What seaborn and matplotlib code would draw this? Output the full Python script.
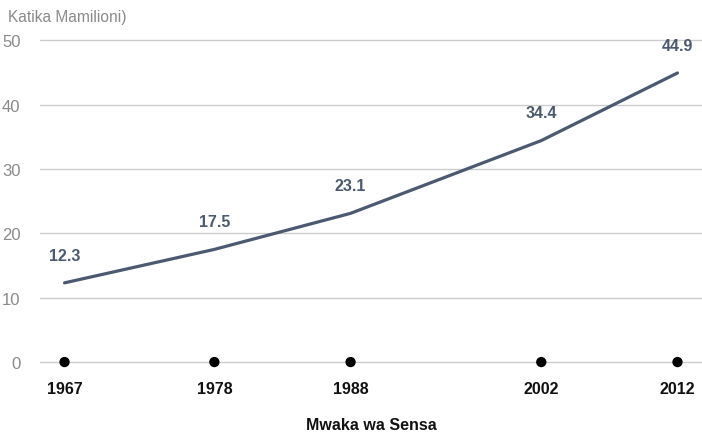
import matplotlib
matplotlib.use("Agg")
import matplotlib.pyplot as plt
import pandas as pd
import seaborn as sns

# census years and population (millions)
years = [1967, 1978, 1988, 2002, 2012]
population = [12.3, 17.5, 23.1, 34.4, 44.9]
y_ticks = [0, 10, 20, 30, 40, 50]

sns.set_theme(style="white")
plt.rcParams["font.family"] = ["Liberation Sans", "DejaVu Sans"]

line_col = "#4b5a70"
df = pd.DataFrame({"year": years, "pop": population})

fig = plt.figure(figsize=(7.02, 4.35), dpi=100)
ax = fig.add_axes([0.057, 0.121, 0.943, 0.814])

sns.lineplot(data=df, x="year", y="pop", color=line_col, linewidth=2.3, ax=ax)
sns.scatterplot(x=years, y=[0] * len(years), color="black", s=55, ax=ax,
                zorder=5, clip_on=False, edgecolor="none")

for yr, v in zip(years, population):
    ax.annotate(f"{v}", (yr, v), xytext=(0, 20), textcoords="offset points",
                ha="center", va="center", fontsize=11.5, fontweight="bold",
                color=line_col)

ax.set_xlim(1965.2, 2013.8)
ax.set_ylim(-3, 52)
ax.set_yticks(y_ticks)
ax.set_xticks(years)
ax.set_xticklabels([str(y) for y in years], fontsize=11.5, fontweight="bold",
                   color="#111111")
ax.set_yticklabels([str(t) for t in y_ticks], fontsize=12, color="#8a8a8a")
ax.tick_params(axis="x", length=0, pad=0)
ax.tick_params(axis="y", length=0, pad=14)
ax.yaxis.grid(True, color="#cccccc", linewidth=1)
ax.xaxis.grid(False)
for s in ax.spines.values():
    s.set_visible(False)

ax.set_xlabel("Mwaka wa Sensa", fontsize=11.5, fontweight="bold", color="#111111",
              labelpad=15)
ax.set_ylabel("")
fig.text(0.011, 0.96, "Katika Mamilioni)", fontsize=11.2, color="#8a8a8a",
         ha="left", va="center")

fig.savefig("out.png", dpi=100)
